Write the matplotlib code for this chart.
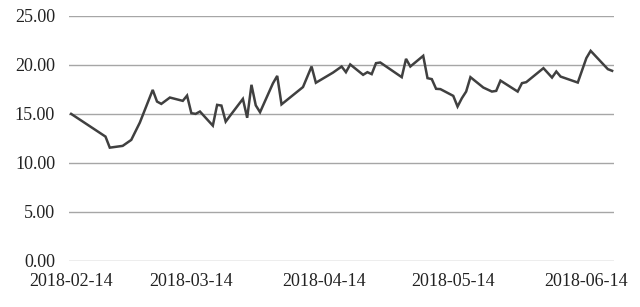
import numpy as np
import pandas as pd
import matplotlib
matplotlib.use('Agg')
import matplotlib.pyplot as plt
import matplotlib.dates as mdates

# turning points of the line
dates = ['2018-02-14', '2018-02-22', '2018-02-23', '2018-02-26', '2018-02-28',
         '2018-03-02', '2018-03-05', '2018-03-06', '2018-03-07', '2018-03-09',
         '2018-03-12', '2018-03-13', '2018-03-14', '2018-03-15', '2018-03-16',
         '2018-03-19', '2018-03-20', '2018-03-21', '2018-03-22', '2018-03-23',
         '2018-03-26', '2018-03-27', '2018-03-28', '2018-03-29', '2018-03-30',
         '2018-04-02', '2018-04-03', '2018-04-04', '2018-04-09', '2018-04-11',
         '2018-04-12', '2018-04-16', '2018-04-18', '2018-04-19', '2018-04-20',
         '2018-04-23', '2018-04-24', '2018-04-25', '2018-04-26', '2018-04-27',
         '2018-05-02', '2018-05-03', '2018-05-04', '2018-05-07', '2018-05-08',
         '2018-05-09', '2018-05-10', '2018-05-11', '2018-05-14', '2018-05-15',
         '2018-05-16', '2018-05-17', '2018-05-18', '2018-05-21', '2018-05-23',
         '2018-05-24', '2018-05-25', '2018-05-29', '2018-05-30', '2018-05-31',
         '2018-06-04', '2018-06-06', '2018-06-07', '2018-06-08', '2018-06-12',
         '2018-06-14', '2018-06-15', '2018-06-19', '2018-06-20']
values = [15.0, 12.68, 11.55, 11.73, 12.34,
          14.11, 17.45, 16.26, 16.02, 16.67,
          16.33, 16.87, 15.07, 15.0, 15.24,
          13.8, 15.92, 15.85, 14.21, 14.8,
          16.53, 14.6, 17.97, 15.87, 15.17,
          18.12, 18.88, 15.97, 17.74, 19.84,
          18.18, 19.22, 19.84, 19.26, 20.05,
          18.99, 19.26, 19.06, 20.18, 20.25,
          18.75, 20.62, 19.84, 20.93, 18.65,
          18.55, 17.56, 17.53, 16.84, 15.75,
          16.6, 17.28, 18.75, 17.69, 17.28,
          17.35, 18.4, 17.28, 18.14, 18.24,
          19.67, 18.71, 19.33, 18.81, 18.2,
          20.7, 21.44, 19.57, 19.4]
tick_dates = ['2018-02-14', '2018-03-14', '2018-04-14', '2018-05-14', '2018-06-14']
y_ticks = [0, 5, 10, 15, 20, 25]

plt.rcParams['font.family'] = ['Liberation Serif', 'DejaVu Serif']

x = pd.to_datetime(dates)
fig = plt.figure(figsize=(6.4, 3.07), dpi=100)
ax = fig.add_axes([0.1078, 0.1508, 0.852, 0.7971])

ax.plot(x, values, color='#404040', linewidth=1.8, solid_joinstyle='miter')

# x range: half a day of padding either side of the data
start = pd.Timestamp(dates[0]) - pd.Timedelta(hours=12)
end = pd.Timestamp(dates[-1]) + pd.Timedelta(hours=12)
ax.set_xlim(start, end)
ax.set_ylim(0, 25)

ax.set_yticks(y_ticks)
ax.set_yticklabels(['%.2f' % v for v in y_ticks])
ax.set_xticks(pd.to_datetime(tick_dates))
ax.xaxis.set_major_formatter(mdates.DateFormatter('%Y-%m-%d'))

ax.grid(axis='y', color='#a6a6a6', linewidth=1.0)
ax.set_axisbelow(True)
for s in ['top', 'right', 'left', 'bottom']:
    ax.spines[s].set_visible(False)
ax.tick_params(axis='both', length=0, labelsize=13, colors='#222222')
ax.tick_params(axis='y', pad=10)
ax.tick_params(axis='x', pad=9)

fig.savefig('out.png', dpi=100, facecolor='white')
